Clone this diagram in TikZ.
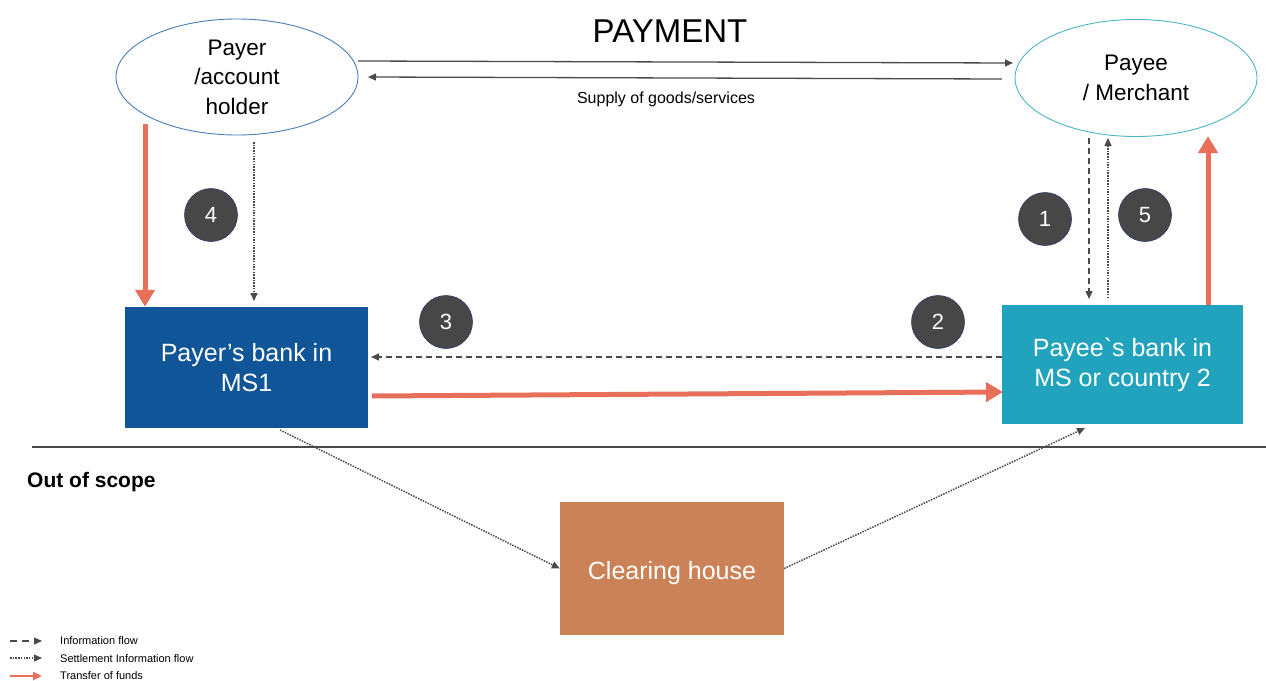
\documentclass[tikz,border=0pt]{standalone}
\usepackage{fontspec}
\setmainfont{Liberation Sans}[Ligatures=TeXOff]
\usetikzlibrary{arrows.meta,shapes.geometric}
\definecolor{payerline}{HTML}{4A7EBB}
\definecolor{payeeline}{HTML}{4BB4C8}
\definecolor{bankblue}{HTML}{0F5597}
\definecolor{bankteal}{HTML}{22A3BD}
\definecolor{clearorange}{HTML}{CC8257}
\definecolor{fundred}{HTML}{E8705A}
\definecolor{flowgray}{HTML}{4A4A4A}
\definecolor{badgefill}{HTML}{474747}
\definecolor{badgeline}{HTML}{2F3D6B}
\newcommand\fsz[2]{\fontsize{#1}{#2}\selectfont}
\tikzset{
  actor/.style={ellipse, line width=0.9pt, inner sep=0pt, align=center, font=\fsz{22.5}{29.5}},
  bankbox/.style={rectangle, inner sep=0pt, align=center, text=white, font=\fsz{25}{30}},
  badge/.style={circle, fill=badgefill, draw=badgeline, line width=0.6pt, minimum size=53pt, inner sep=0pt, text=white, font=\fsz{22}{26}},
  garr/.style={draw=flowgray, line width=1.3pt, -{Triangle[length=8pt,width=7pt]}},
  infoarr/.style={draw=flowgray, line width=1.4pt, dash pattern=on 6pt off 4pt, -{Triangle[length=8pt,width=7pt]}},
  settle/.style={draw=flowgray, line width=1.5pt, dash pattern=on 1.5pt off 1.2pt, -{Triangle[length=8pt,width=7pt]}},
  fund/.style={draw=fundred, line width=5pt, -{Triangle[length=17pt,width=19pt]}},
  legtext/.style={anchor=west, inner sep=0pt, font=\fsz{11}{13}}
}
\begin{document}
\begin{tikzpicture}[x=1pt,y=-1pt]
\useasboundingbox (0,0) rectangle (1266,680);

% actors
\node[actor, draw=payerline, minimum width=242pt, minimum height=116pt] (payer) at (237,77) {Payer\\/account\\holder};
\node[actor, draw=payeeline, minimum width=242pt, minimum height=117pt] (payee) at (1136,78) {Payee\\/ Merchant};

\node[font=\fsz{33}{36}] (title) at (670,31) {PAYMENT};
\node[font=\fsz{16}{19}] (supply) at (666,99) {Supply of goods/services};

% banks
\node[bankbox, fill=bankblue, minimum width=243pt, minimum height=121pt] (pbank) at (246.5,367.5) {Payer’s bank in\\MS1};
\node[bankbox, fill=bankteal, minimum width=241pt, minimum height=119pt] (qbank) at (1122.5,364.5) {Payee`s bank in\\MS or country 2};
\node[bankbox, fill=clearorange, minimum width=224pt, minimum height=133pt, text depth=0pt] (clear) at (672,568.5) {\raisebox{-3pt}{Clearing house}};

% badges
\node[badge] (b4) at (211,215) {4};
\node[badge] (b3) at (446,322) {3};
\node[badge] (b2) at (938,322) {2};
\node[badge] (b1) at (1045,219) {1};
\node[badge] (b5) at (1145,215) {5};

% scope line
\draw[draw=flowgray, line width=1.5pt] (32,447) -- (1266,447);
\node[anchor=west, inner sep=0pt, font=\bfseries\fsz{21}{24}] (oos) at (27,482) {Out of scope};

% top arrows
\coordinate (payS) at (358,61);
\coordinate (payE) at (1013,63);
\draw[garr] (payS) -- (payE);
\coordinate (supS) at (1002,79);
\coordinate (supE) at (368,77);
\draw[garr] (supS) -- (supE);

% payer -> payer bank
\coordinate (r1s) at (145,124);
\draw[fund] (r1s) -- (r1s |- pbank.north);
\coordinate (d1s) at (254,142);
\coordinate (d1e) at (254,301);
\draw[settle] (d1s) -- (d1e);

% payee <-> payee bank
\coordinate (i1s) at (1089,138);
\coordinate (i1e) at (1089,299);
\draw[infoarr] (i1s) -- (i1e);
\coordinate (s5s) at (1108,298);
\coordinate (s5e) at (1108,138);
\draw[settle] (s5s) -- (s5e);
\coordinate (r5s) at (1208,305);
\coordinate (r5e) at (1208,136);
\draw[fund] (r5s) -- (r5e);

% between banks
\coordinate (i3e) at (371,357);
\draw[infoarr] (qbank.west |- i3e) -- (i3e);
\coordinate (r3s) at (372,396);
\coordinate (r3e) at (1003,392);
\draw[fund] (r3s) -- (r3e);

% clearing house
\coordinate (c1s) at (280,430);
\draw[settle] (c1s) -- (clear.west);
\coordinate (c2e) at (1085,428);
\draw[settle] (clear.east) -- (c2e);

% legend
\coordinate (l1) at (10,641);
\coordinate (l2) at (10,658);
\coordinate (l3) at (10,676);
\draw[infoarr, line width=1.2pt, dash pattern=on 7pt off 5pt] (l1) -- ++(32,0);
\draw[settle, line width=1.2pt] (l2) -- ++(32,0);
\draw[fund, line width=2.5pt, -{Triangle[length=9pt,width=8pt]}] (l3) -- ++(32,0);
\node[legtext] (t1) at (60,641) {Information flow};
\node[legtext] (t2) at (60,658.5) {Settlement Information flow};
\node[legtext] (t3) at (60,676) {Transfer of funds};
\end{tikzpicture}
\end{document}
